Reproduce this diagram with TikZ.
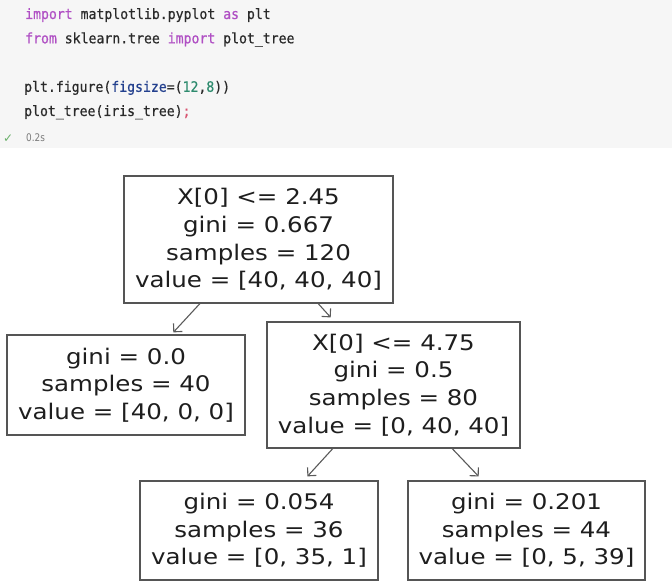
\documentclass[tikz,border=0pt]{standalone}
\usepackage{fontspec}
\usetikzlibrary{arrows.meta,calc}
\newfontfamily\treefont[FakeStretch=1.14]{DejaVu Sans}
\newfontfamily\codefont[FakeStretch=0.92,FakeBold=0.6]{DejaVu Sans Mono}
\newfontfamily\symfont{DejaVu Sans}
\newfontfamily\timefont[FakeStretch=0.85]{DejaVu Sans}
\definecolor{cellbg}{HTML}{F6F6F6}
\definecolor{codetxt}{HTML}{2A2A2A}
\definecolor{kwcol}{HTML}{B04FC4}
\definecolor{parcol}{HTML}{23408E}
\definecolor{numcol}{HTML}{2E8B6E}
\definecolor{semicol}{HTML}{D9536F}
\definecolor{okcol}{HTML}{6AB06A}
\definecolor{timecol}{HTML}{7A7A7A}
\definecolor{boxcol}{HTML}{555555}
\definecolor{edgecol}{HTML}{5A5A5A}
\definecolor{treetxt}{HTML}{1E1E1E}
\tikzset{
  treebox/.style={draw=boxcol, line width=1.3pt, fill=white, inner sep=0pt,
    align=center, text=treetxt, font=\treefont\fontsize{21.5}{27.6}\selectfont},
  edge/.style={draw=edgecol, line width=1.1pt, -{Straight Barb[length=6pt,width=12pt]}},
  codeline/.style={anchor=base west, inner sep=0pt, text=codetxt, font=\codefont\fontsize{14.3}{16}\selectfont}
}
\begin{document}
\begin{tikzpicture}[x=1pt,y=-1pt]
\useasboundingbox (0,0) rectangle (672,588);
\fill[white] (0,0) rectangle (672,588);
\fill[cellbg] (0,0) rectangle (672,148);
% code cell
\node[codeline] (c1) at (25,19) {\textcolor{kwcol}{import} matplotlib.pyplot \textcolor{kwcol}{as} plt};
\node[codeline] (c2) at (25,43.3) {\textcolor{kwcol}{from} sklearn.tree \textcolor{kwcol}{import} plot\_tree};
\node[codeline] (c3) at (24,91.8) {plt.figure(\textcolor{parcol}{figsize}=(\textcolor{numcol}{12},\textcolor{numcol}{8}))};
\node[codeline] (c4) at (24,116) {plot\_tree(iris\_tree)\textcolor{semicol}{;}};
\node[anchor=base west, inner sep=0pt, text=okcol, font=\symfont\fontsize{12}{14}\selectfont] (ok) at (3,143) {✓};
\node[anchor=base west, inner sep=0pt, text=timecol, font=\timefont\fontsize{10.5}{12}\selectfont] (tm) at (26,141.5) {0.2s};
% tree
\node[treebox, minimum width=269pt, minimum height=127pt] (root) at (258.5,239.5)
  {X[0] <= 2.45\\gini = 0.667\\samples = 120\\value = [40, 40, 40]};
\node[treebox, minimum width=238pt, minimum height=100pt] (leafA) at (126,385)
  {gini = 0.0\\samples = 40\\value = [40, 0, 0]};
\node[treebox, minimum width=253pt, minimum height=126pt] (mid) at (393.5,385)
  {X[0] <= 4.75\\gini = 0.5\\samples = 80\\value = [0, 40, 40]};
\node[treebox, minimum width=238pt, minimum height=99pt] (leafB) at (259,530.5)
  {gini = 0.054\\samples = 36\\value = [0, 35, 1]};
\node[treebox, minimum width=237pt, minimum height=99pt] (leafC) at (526.5,530.5)
  {gini = 0.201\\samples = 44\\value = [0, 5, 39]};
% connectors
\draw[edge, shorten >=2.7pt] ($(root.south west)!0.283!(root.south east)$) -- ($(leafA.north west)!0.69!(leafA.north east)$);
\draw[edge, shorten >=5.3pt] ($(root.south west)!0.721!(root.south east)$) -- ($(mid.north west)!0.267!(mid.north east)$);
\draw[edge, shorten >=5.4pt] ($(mid.south west)!0.261!(mid.south east)$) -- ($(leafB.north west)!0.687!(leafB.north east)$);
\draw[edge, shorten >=5.4pt] ($(mid.south west)!0.731!(mid.south east)$) -- ($(leafC.north west)!0.315!(leafC.north east)$);
\end{tikzpicture}
\end{document}
